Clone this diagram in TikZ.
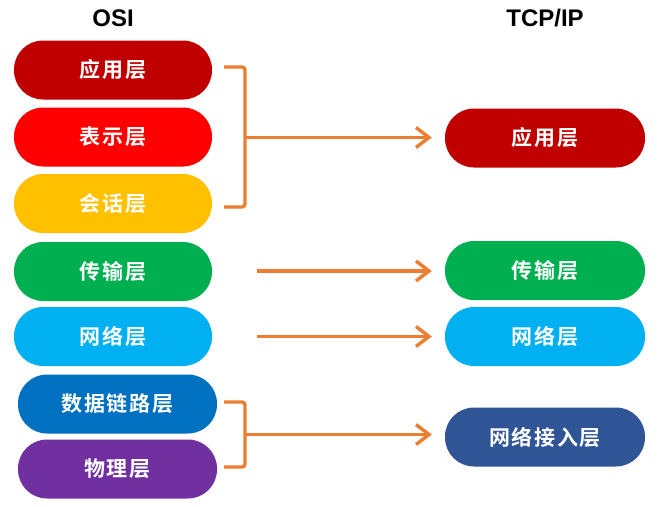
\documentclass[tikz,border=0pt]{standalone}
\usepackage{fontspec}
\setmainfont{Liberation Sans}
\newfontfamily\cjk[BoldFont={Noto Sans CJK SC Bold},LetterSpace=8]{Noto Sans CJK SC}
\usetikzlibrary{arrows.meta}
\definecolor{cApp}{HTML}{C00000}
\definecolor{cPre}{HTML}{FF0000}
\definecolor{cSes}{HTML}{FFC000}
\definecolor{cTra}{HTML}{00B050}
\definecolor{cNet}{HTML}{00B0F0}
\definecolor{cDat}{HTML}{0070C0}
\definecolor{cPhy}{HTML}{7030A0}
\definecolor{cAcc}{HTML}{2F5597}
\definecolor{cArr}{HTML}{ED7D31}
\begin{document}
\begin{tikzpicture}[x=1pt,y=-1pt,
  layer/.style={fill=#1, draw=none, rounded corners=29pt, minimum width=198pt,
    minimum height=59pt, inner sep=0pt, text=white, font=\cjk\bfseries\fontsize{21}{24}\selectfont},
  title/.style={font=\bfseries\fontsize{24}{28}\selectfont, text=black},
  conn/.style={draw=cArr, line width=3.4pt},
  arr/.style={conn, -{Straight Barb[length=13pt,width=20pt,line width=3.4pt]}, shorten >=13pt}
]
\useasboundingbox (0,0) rectangle (663,506);
\node[title] (osi) at (113,18) {OSI};
\node[title] (tcp) at (545,18) {TCP/IP};

\node[layer=cApp] (l1) at (113,70) {应用层};
\node[layer=cPre] (l2) at (113,137) {表示层};
\node[layer=cSes] (l3) at (113,203.5) {会话层};
\node[layer=cTra] (l4) at (113,271.5) {传输层};
\node[layer=cNet] (l5) at (113,336.5) {网络层};
\node[layer=cDat, minimum width=199pt] (l6) at (117.5,404) {数据链路层};
\node[layer=cPhy, minimum width=199pt] (l7) at (117.5,469) {物理层};

\node[layer=cApp, minimum width=200pt] (r1) at (545,138) {应用层};
\node[layer=cTra, minimum width=200pt] (r2) at (545,270.5) {传输层};
\node[layer=cNet, minimum width=200pt] (r3) at (545,336.5) {网络层};
\node[layer=cAcc, minimum width=200pt] (r4) at (545,437) {网络接入层};

\coordinate (b1a) at (224,67);
\coordinate (b1b) at (224,207);
\coordinate (b1m) at (245,137.5);
\draw[conn, rounded corners=3pt] (b1a) -- (245,67) -- (245,207) -- (b1b);
\draw[arr] (b1m) -- (b1m -| r1.west);

\coordinate (a2) at (257,271);
\coordinate (a3) at (257,336.5);
\draw[arr] (a2) -- (a2 -| r2.west);
\draw[arr] (a3) -- (a3 -| r3.west);

\coordinate (b2a) at (224,402);
\coordinate (b2b) at (224,467);
\coordinate (b2m) at (245,434.5);
\draw[conn, rounded corners=3pt] (b2a) -- (245,402) -- (245,467) -- (b2b);
\draw[arr] (b2m) -- (b2m -| r4.west);
\end{tikzpicture}
\end{document}
